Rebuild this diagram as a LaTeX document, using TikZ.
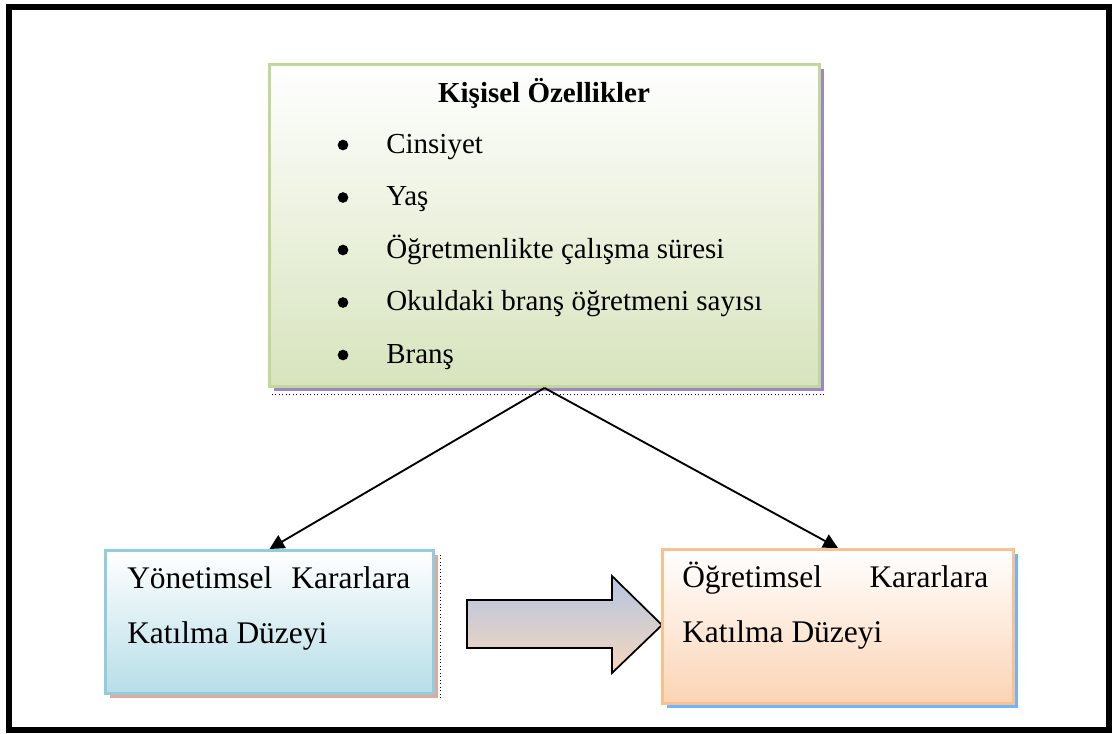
\documentclass[tikz,border=0pt]{standalone}
\usepackage{fontspec}
\setmainfont{Liberation Serif}
\usetikzlibrary{arrows.meta,shadows,calc}
\definecolor{greenfill}{HTML}{D7E4BD}
\definecolor{greenline}{HTML}{C3D69B}
\definecolor{greenshadow}{HTML}{9B87C6}
\definecolor{bluefill}{HTML}{B7DEE8}
\definecolor{blueline}{HTML}{93CDDD}
\definecolor{salmonshadow}{HTML}{E2A89A}
\definecolor{peachfill}{HTML}{FBD4B4}
\definecolor{peachline}{HTML}{FAC08F}
\definecolor{skyshadow}{HTML}{6CB6FF}
\definecolor{arrowtop}{HTML}{B4C6E2}
\definecolor{arrowbottom}{HTML}{F6D6BC}
\newcommand{\ListTop}{153}
\newcommand{\ListGap}{52.5}
\newcommand{\BulletX}{343}
\newcommand{\ItemX}{386}

\begin{document}
\begin{tikzpicture}[
    x=0.75pt, y=-0.75pt,
    font=\fontsize{21.75}{26}\selectfont,
    edge/.style={-{Triangle[length=11pt, width=11pt]}, line width=1.4pt, draw=black},
    panel/.style={rectangle, anchor=north west, inner sep=0pt, line width=2.2pt},
    features/.style={panel, draw=greenline, top color=white, bottom color=greenfill,
      drop shadow={shadow xshift=3.2pt, shadow yshift=-3.5pt, fill=greenshadow, opacity=1}},
    managerial/.style={panel, draw=blueline, top color=white, bottom color=bluefill,
      drop shadow={shadow xshift=3.2pt, shadow yshift=-3.5pt, fill=salmonshadow, opacity=1}},
    instructional/.style={panel, draw=peachline, top color=white, bottom color=peachfill,
      drop shadow={shadow xshift=3.2pt, shadow yshift=-3.5pt, fill=skyshadow, opacity=1}},
    push/.style={draw=black, line width=1.3pt, top color=arrowtop, bottom color=arrowbottom},
    dot/.style={circle, fill=black, inner sep=0pt, minimum size=8pt},
    caption/.style={anchor=base west, inner sep=0pt},
    bigcaption/.style={caption, font=\fontsize{23.6}{28}\selectfont},
  ]
\useasboundingbox (0,0) rectangle (1113,733);

% --- Outer frame ---------------------------------------------------------------
\draw[line width=4.5pt] (9,7) rectangle (1109,730);

% --- The block arrow between the two levels -----------------------------------
\draw[push] (467,600) -- (612,600) -- (612,576) -- (662,625) -- (612,673) -- (612,648) -- (467,648) -- cycle;

% --- The three boxes -----------------------------------------------------------
\node[features, minimum width=412.5pt, minimum height=241.5pt] (kisisel) at (268,63) {};
\node[managerial, minimum width=246pt, minimum height=107.25pt] (yonetim) at (104,549) {};
\node[instructional, minimum width=263.25pt, minimum height=115.5pt] (ogretim) at (661,548) {};
\draw[dotted, line width=0.6pt] ($(kisisel.south west)+(4,6)$) -- ($(kisisel.south east)+(5,6)$);
\draw[dotted, line width=0.6pt] ($(yonetim.north east)+(5,6)$) -- ($(yonetim.south east)+(5,5)$);

% --- Personal features: title and bullet list ----------------------------------
\node[anchor=base, inner sep=0pt, font=\fontsize{21.75}{26}\selectfont\bfseries] (kisiseltitle) at (544,102) {Kişisel Özellikler};
\foreach \feature [count=\i] in {Cinsiyet, Yaş, Öğretmenlikte çalışma süresi, Okuldaki branş öğretmeni sayısı, Branş} {
  \pgfmathsetmacro{\y}{\ListTop+(\i-1)*\ListGap}
  \node[dot] (bullet\i) at (\BulletX,\y-8) {};
  \node[caption] (feature\i) at (\ItemX,\y) {\feature};
}

% --- Participation levels --------------------------------------------------------
\node[bigcaption] (yonetimline1) at (127,588) {\makebox[212.25pt][s]{Yönetimsel Kararlara}};
\node[bigcaption] (yonetimline2) at (127,643) {Katılma Düzeyi};
\node[bigcaption] (ogretimline1) at (682,587) {\makebox[229.5pt][s]{Öğretimsel Kararlara}};
\node[bigcaption] (ogretimline2) at (682,642) {Katılma Düzeyi};

% --- Connectors ------------------------------------------------------------------
\draw[edge] (kisisel.south) -- (yonetim.north);
\draw[edge] (kisisel.south) -- (ogretim.north);

\end{tikzpicture}
\end{document}
